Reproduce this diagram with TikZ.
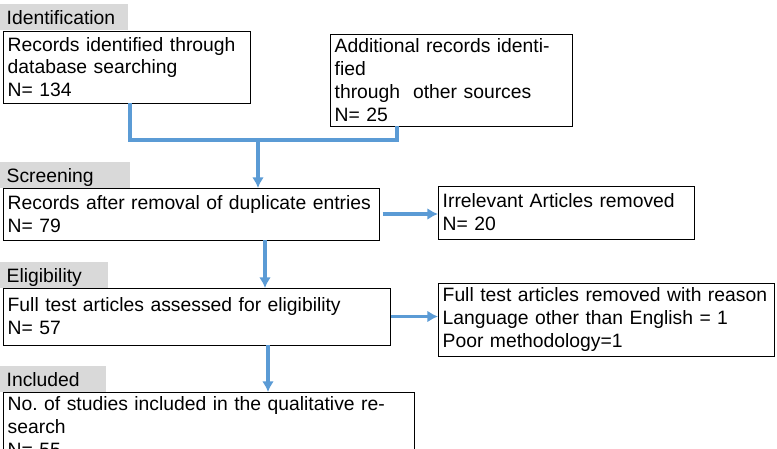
\documentclass[tikz,border=0pt]{standalone}
\usepackage{fontspec}
\setmainfont{Liberation Sans}
\usetikzlibrary{positioning,arrows.meta}
\definecolor{flowblue}{RGB}{91,155,213}
\definecolor{stagegray}{RGB}{217,217,217}
\frenchspacing
\begin{document}
\begin{tikzpicture}[x=0.03cm, y=-0.03cm]

%-------------------------------------------------
% Styles
%-------------------------------------------------
\tikzset{
  stage/.style={fill=stagegray, anchor=north west, inner sep=0pt, minimum height=0.78cm,
    text depth=0pt, font=\fontsize{16.5}{19.5}\selectfont, align=left, outer sep=0pt},
  box/.style={draw=black, line width=0.7pt, anchor=north west, align=left, inner sep=4pt,
    font=\fontsize{16.5}{19.5}\selectfont, outer sep=0pt},
  flow/.style={draw=flowblue, line width=3pt},
  flowarrow/.style={flow, -{Latex[length=9pt, width=10pt]}}
}

\useasboundingbox (0,0) rectangle (777,449);

%-------------------------------------------------
% Stage labels
%-------------------------------------------------
\node[stage, minimum width=3.84cm, text width=3.84cm] (ident) at (0,4) {\hspace*{0.2cm}Identification};
\node[stage, minimum width=3.9cm, text width=3.9cm] (screen) at (0,162) {\hspace*{0.2cm}Screening};
\node[stage, minimum width=3.24cm, text width=3.24cm] (elig) at (0,262) {\hspace*{0.2cm}Eligibility};
\node[stage, minimum width=3.18cm, text width=3.18cm] (incl) at (0,366) {\hspace*{0.2cm}Included};

%-------------------------------------------------
% Boxes
%-------------------------------------------------
\node[box, text width=7.15cm, minimum height=2.16cm] (db) at (3,31)
  {Records identified through\\database searching\\N= 134};
\node[box, text width=7.0cm, minimum height=2.07cm] (other) at (330,34)
  {Additional records identified\\through\ \ other sources\\N= 25};
\node[box, text width=11.0cm, minimum height=1.56cm] (dup) at (3,188)
  {Records after removal of duplicate entries\\N= 79};
\node[box, text width=7.4cm, minimum height=1.59cm] (irr) at (438,186)
  {Irrelevant Articles removed\\N= 20};
\node[box, text width=11.35cm, minimum height=1.71cm] (full) at (3,288)
  {Full test articles assessed for eligibility\\N= 57};
\node[box, text width=9.81cm, minimum height=2.07cm] (rem) at (438,283)
  {Full test articles removed with reason\\Language other than English = 1\\Poor methodology=1};
\node[box, text width=12.05cm, minimum height=1.59cm] (qual) at (3,392)
  {No. of studies included in the qualitative research\\N= 55};

%-------------------------------------------------
% Connectors
%-------------------------------------------------
\coordinate (jl) at (130,140);
\coordinate (jr) at (397,140);
\coordinate (jm) at (258,140);
\draw[flow] (db.south -| jl) -- (jl) -- (jr) -- (other.south -| jr);
\draw[flowarrow] (jm) -- (dup.north -| jm);
\draw[flowarrow] ([xshift=3pt]dup.east) -- (irr.west |- dup.east);
\coordinate (m1) at (265,0);
\draw[flowarrow] (dup.south -| m1) -- (full.north -| m1);
\draw[flowarrow] (full.east) -- (rem.west |- full.east);
\coordinate (m2) at (268,0);
\draw[flowarrow] (full.south -| m2) -- (qual.north -| m2);

\end{tikzpicture}
\end{document}
